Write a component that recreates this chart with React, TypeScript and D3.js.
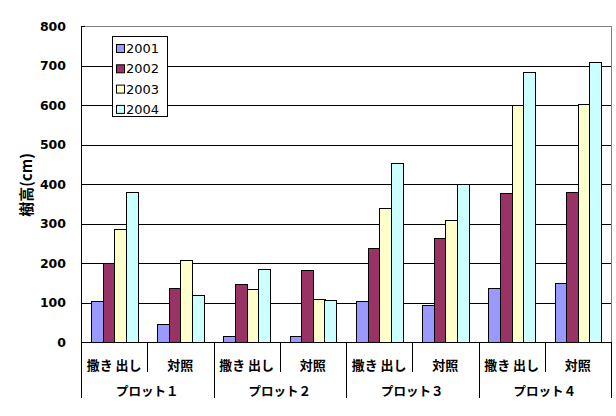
import React from "react";
import * as d3 from "d3";

const plots = ["プロット１", "プロット２", "プロット３", "プロット４"];
const treatments = ["撒き 出し", "対照"];
const years = ["2001", "2002", "2003", "2004"];
const colors = ["#9999FF", "#993366", "#FFFFCC", "#CCFFFF"];
const yTicks = [0, 100, 200, 300, 400, 500, 600, 700, 800];

// values per category (plot × treatment), series order 2001..2004
const v2001 = [103, 45, 14, 14, 103, 93, 136, 149];
const v2002 = [199, 136, 146, 183, 238, 264, 376, 381];
const v2003 = [285, 207, 133, 108, 340, 308, 599, 602];
const v2004 = [380, 118, 186, 106, 453, 399, 683, 708];
const series = [v2001, v2002, v2003, v2004];

const W = 616;
const H = 416;
const L = 81;
const R = 611;
const T = 26;
const B = 342;

export default function App() {
  const cats = d3.range(plots.length * treatments.length);
  const x = d3.scaleBand<number>().domain(cats).range([L, R]).paddingInner(0).paddingOuter(0);
  const gw = x.bandwidth();
  const barW = gw / 5.7;
  const inner = d3
    .scaleBand<number>()
    .domain(d3.range(years.length))
    .range([(gw - barW * 4) / 2, (gw + barW * 4) / 2]);
  const y = d3.scaleLinear().domain([0, 800]).range([B, T]);
  const plotW = gw * 2;

  const jp = "'Noto Sans CJK JP', sans-serif";
  const num = "'DejaVu Sans', sans-serif";

  return (
    <svg
      width={W}
      height={H}
      style={{ position: "absolute", left: 0, top: 0, background: "#fff" }}
    >
      <rect x={0} y={0} width={W} height={H} fill="#fff" />
      {/* gridlines */}
      {yTicks.slice(1, -1).map((t) => (
        <line key={t} x1={L} x2={R} y1={Math.round(y(t)) + 0.5} y2={Math.round(y(t)) + 0.5} stroke="#000" />
      ))}
      {/* plot border top / right */}
      <line x1={L} x2={R} y1={T + 0.5} y2={T + 0.5} stroke="#808080" />
      <line x1={R + 0.5} x2={R + 0.5} y1={T} y2={B} stroke="#808080" />
      {/* bars */}
      {series.map((vals, si) =>
        vals.map((v, ci) => (
          <rect
            key={`${si}-${ci}`}
            x={Math.round((x(ci) as number) + (inner(si) as number)) + 0.5}
            y={Math.round(y(v)) + 0.5}
            width={Math.round(barW)}
            height={Math.round(B - y(v))}
            fill={colors[si]}
            stroke="#000"
            strokeWidth={1}
          />
        ))
      )}
      {/* y axis */}
      <line x1={L + 0.5} x2={L + 0.5} y1={T} y2={398} stroke="#000" />
      {yTicks.map((t) => (
        <g key={t}>
          <line x1={L} x2={L + 4} y1={Math.round(y(t)) + 0.5} y2={Math.round(y(t)) + 0.5} stroke="#000" />
          <text
            x={66}
            y={y(t)}
            textAnchor="end"
            dominantBaseline="central"
            fontFamily={num}
            fontWeight="bold"
            fontSize={12.5}
          >
            {t}
          </text>
        </g>
      ))}
      {/* x axis */}
      <line x1={L} x2={R + 1} y1={B + 0.5} y2={B + 0.5} stroke="#000" />
      {cats.map((c) => {
        const xx = Math.round((x(c) as number) + gw) + 0.5;
        const long = c % 2 === 1;
        return <line key={c} x1={xx} x2={xx} y1={B} y2={long ? 398 : 372} stroke="#000" />;
      })}
      {cats.map((c) => (
        <text
          key={c}
          x={(x(c) as number) + gw / 2}
          y={364}
          textAnchor="middle"
          dominantBaseline="central"
          fontFamily={jp}
          fontWeight="bold"
          fontSize={13}
        >
          {treatments[c % 2]}
        </text>
      ))}
      {plots.map((p, i) => (
        <text
          key={p}
          x={L + plotW * i + plotW / 2}
          y={390}
          textAnchor="middle"
          dominantBaseline="central"
          fontFamily={jp}
          fontWeight="bold"
          fontSize={12.5}
        >
          {p}
        </text>
      ))}
      {/* y title */}
      <text
        transform={`translate(25,185) rotate(-90)`}
        textAnchor="middle"
        dominantBaseline="central"
        fontFamily={jp}
        fontWeight="bold"
        fontSize={15}
      >
        樹高(cm)
      </text>
      {/* legend */}
      <rect x={112.5} y={36.5} width={55} height={80} fill="#fff" stroke="#000" />
      {years.map((yr, i) => (
        <g key={yr}>
          <rect x={116.5} y={44.5 + i * 20.3} width={8} height={8} fill={colors[i]} stroke="#000" />
          <text
            x={126}
            y={48.5 + i * 20.3}
            dominantBaseline="central"
            fontFamily={num}
            fontSize={13}
          >
            {yr}
          </text>
        </g>
      ))}
    </svg>
  );
}
